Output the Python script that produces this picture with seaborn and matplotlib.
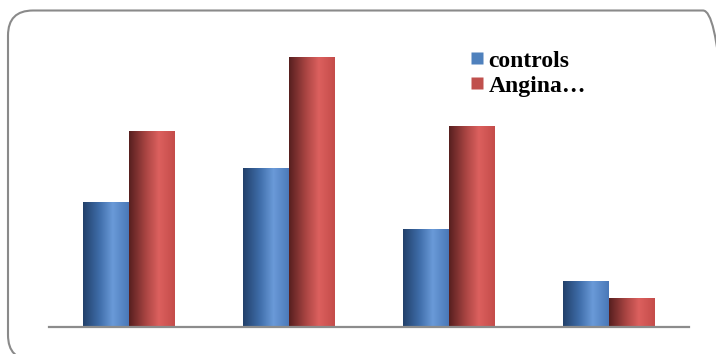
import numpy as np
import pandas as pd
import matplotlib
matplotlib.use("Agg")
import matplotlib.pyplot as plt
import seaborn as sns
from matplotlib.colors import LinearSegmentedColormap, to_rgb
from matplotlib.patches import FancyBboxPatch
from matplotlib.lines import Line2D

# ---- data ----
categories = ["1", "2", "3", "4"]
series = ["controls", "Angina…"]
controls = [4.62, 5.88, 3.62, 1.69]
angina = [7.25, 10.0, 7.44, 1.06]

df = pd.DataFrame({
    "category": categories * 2,
    "group": [series[0]] * len(categories) + [series[1]] * len(categories),
    "value": controls + angina,
})

sns.set_theme(style="white")
plt.rcParams['font.family'] = ['Liberation Serif', 'DejaVu Serif']

fig = plt.figure(figsize=(7.16, 3.54), dpi=100)
ax = fig.add_axes([49 / 716, 27.5 / 354, 640 / 716, 286.5 / 354])

palette = {series[0]: "#4f81bd", series[1]: "#c0504d"}
sns.barplot(data=df, x="category", y="value", hue="group", hue_order=series,
            order=categories, palette=palette, width=0.575, gap=0,
            saturation=1, ax=ax, legend=False, errorbar=None)

ramps = {
    series[0]: ["#22406a", "#3e6ca8", "#6a9ad8", "#4a78b8"],
    series[1]: ["#561f1f", "#a64341", "#dc605e", "#c44c4a"],
}
cmaps = {k: LinearSegmentedColormap.from_list(k, list(zip([0, 0.35, 0.65, 1.0], v)))
         for k, v in ramps.items()}

grad = np.linspace(0, 1, 256).reshape(1, -1)
for p in list(ax.patches):
    fc = np.array(p.get_facecolor()[:3])
    key = min(series, key=lambda s: np.abs(np.array(to_rgb(palette[s])) - fc).sum())
    x0, y0, w, h = p.get_x(), p.get_y(), p.get_width(), p.get_height()
    if h <= 0:
        continue
    im = ax.imshow(grad, cmap=cmaps[key], extent=[x0, x0 + w, y0, y0 + h],
                   aspect="auto", zorder=p.get_zorder() + 0.1, interpolation="bilinear")
    im.set_clip_path(p)
    p.set_edgecolor("none")

ax.set_xlim(-0.5, len(categories) - 0.5)
ax.set_ylim(0, 10.63)
ax.set_xlabel("")
ax.set_ylabel("")
ax.set_xticks([])
ax.set_yticks([])
for s in ["top", "right", "left"]:
    ax.spines[s].set_visible(False)
ax.spines["bottom"].set_color("#8c8c8c")
ax.spines["bottom"].set_linewidth(1.6)
ax.spines["bottom"].set_zorder(5)
ax.patch.set_alpha(0)

handles = [Line2D([], [], linestyle="none", marker="s", markersize=8.2,
                  markerfacecolor=palette[s], markeredgecolor="none") for s in series]
leg = ax.legend(handles, series, loc="upper left",
                bbox_to_anchor=(469 / 716, 1 - 50 / 354), bbox_transform=fig.transFigure,
                frameon=False, prop={"family": "Liberation Serif", "weight": "bold", "size": 17},
                handlelength=0.7, handletextpad=0.12, labelspacing=0.15,
                borderpad=0, borderaxespad=0)
for t in leg.get_texts():
    t.set_color("black")

# rounded frame
frame = FancyBboxPatch((0.08, -0.06), 7.2, 3.495,
                       boxstyle="round,pad=0,rounding_size=0.25",
                       transform=fig.dpi_scale_trans, facecolor="none",
                       edgecolor="#8a8a8a", linewidth=1.5, clip_on=False)
fig.patches.append(frame)

fig.savefig("out.png", dpi=100)
